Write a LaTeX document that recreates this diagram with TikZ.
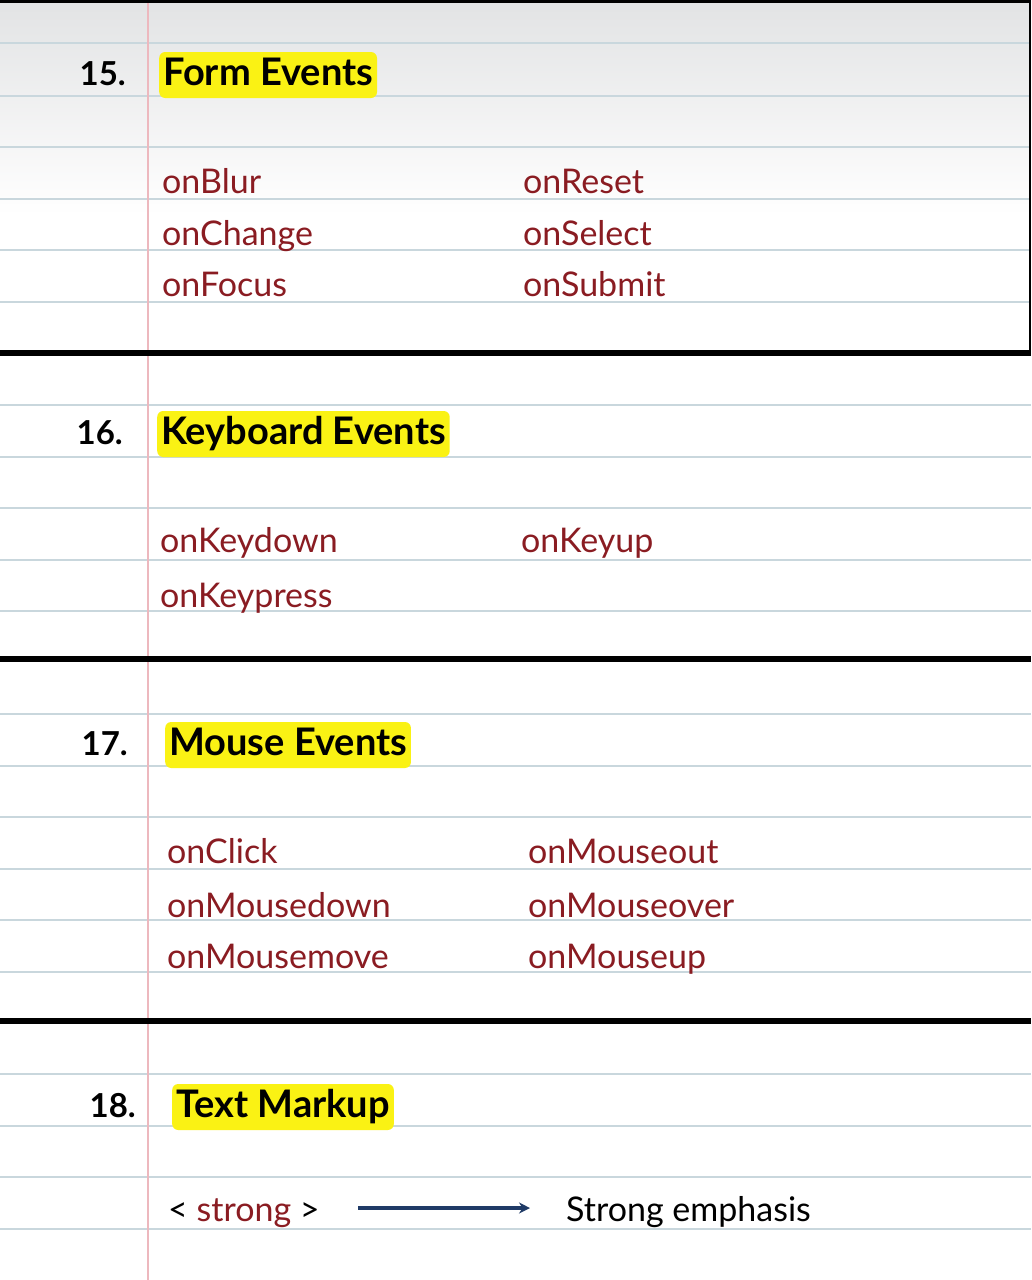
\documentclass[tikz,border=0pt]{standalone}
\usepackage{fontspec}
\setmainfont{Lato}
\usetikzlibrary{arrows.meta}
\definecolor{rulec}{HTML}{C9D7DD}
\definecolor{marginc}{HTML}{EDB8BE}
\definecolor{itemc}{HTML}{8A1C22}
\definecolor{hlc}{HTML}{FAF214}
\definecolor{arrowc}{HTML}{1F3A66}
\definecolor{topgray}{HTML}{E2E3E4}
\tikzset{
 itemtext/.style={anchor=base west, inner sep=0pt, text=itemc, font=\fontsize{34}{40}\selectfont},
 numtext/.style={anchor=base east, inner sep=0pt, font=\bfseries\fontsize{33}{40}\selectfont},
 headtext/.style={anchor=base west, fill=hlc, rounded corners=6pt, inner xsep=4pt, inner ysep=5pt, text height=28pt, text depth=8pt, font=\bfseries\fontsize{38}{44}\selectfont},
 ruleline/.style={draw=rulec, line width=1.5pt},
 thickline/.style={draw=black, line width=6.5pt},
}
\begin{document}
\begin{tikzpicture}[x=1pt,y=-1pt]
\useasboundingbox (0,0) rectangle (1031,1280);
\fill[white] (0,0) rectangle (1031,1280);
\shade[top color=topgray, bottom color=white] (0,0) rectangle (1031,215);
% ruled lines
\foreach \yy in {43,96,147,199,250,302,405,457,508,560,611,714,766,817,869,920,972,1074,1126,1177,1229}
  \draw[ruleline] (0,\yy) -- (1031,\yy);
% margin
\draw[marginc, line width=1.2pt] (148,0) -- (148,1280);
% borders
\draw[black, line width=3pt] (0,1.5) -- (1031,1.5);
\draw[black, line width=2pt] (1030,0) -- (1030,353);
\draw[thickline] (0,353) -- (1031,353);
\draw[thickline] (0,659) -- (1031,659);
\draw[thickline] (0,1021) -- (1031,1021);

% Section 15
\node[numtext] (n15) at (126,85) {15.};
\node[headtext] (h15) at (159,85) {Form Events};
\node[itemtext] (blur) at (162,193) {onBlur};
\node[itemtext] (change) at (162,245) {onChange};
\node[itemtext] (focus) at (162,296) {onFocus};
\node[itemtext] (reset) at (523,193) {onReset};
\node[itemtext] (select) at (523,245) {onSelect};
\node[itemtext] (submit) at (523,296) {onSubmit};

% Section 16
\node[numtext] (n16) at (123,444) {16.};
\node[headtext] (h16) at (157,444) {Keyboard Events};
\node[itemtext] (kdown) at (160,552) {onKeydown};
\node[itemtext] (kpress) at (160,607) {onKeypress};
\node[itemtext] (kup) at (521,552) {onKeyup};

% Section 17
\node[numtext] (n17) at (128,755) {17.};
\node[headtext] (h17) at (165,755) {Mouse Events};
\node[itemtext] (click) at (167,863) {onClick};
\node[itemtext] (mdown) at (167,917) {onMousedown};
\node[itemtext] (mmove) at (167,968) {onMousemove};
\node[itemtext] (mout) at (528,863) {onMouseout};
\node[itemtext] (mover) at (528,917) {onMouseover};
\node[itemtext] (mup) at (528,968) {onMouseup};

% Section 18
\node[numtext] (n18) at (136,1117) {18.};
\node[headtext] (h18) at (172,1117) {Text Markup};
\node[itemtext, text=black] (tag) at (168,1221) {< \textcolor{itemc}{strong} >};
\node[itemtext, text=black] (emph) at (566,1221) {Strong emphasis};
\coordinate (a1) at (358,1208);
\coordinate (a2) at (530,1208);
\draw[arrowc, line width=3.2pt, -{Stealth[length=11pt,width=11pt]}] (a1) -- (a2);
\end{tikzpicture}
\end{document}
